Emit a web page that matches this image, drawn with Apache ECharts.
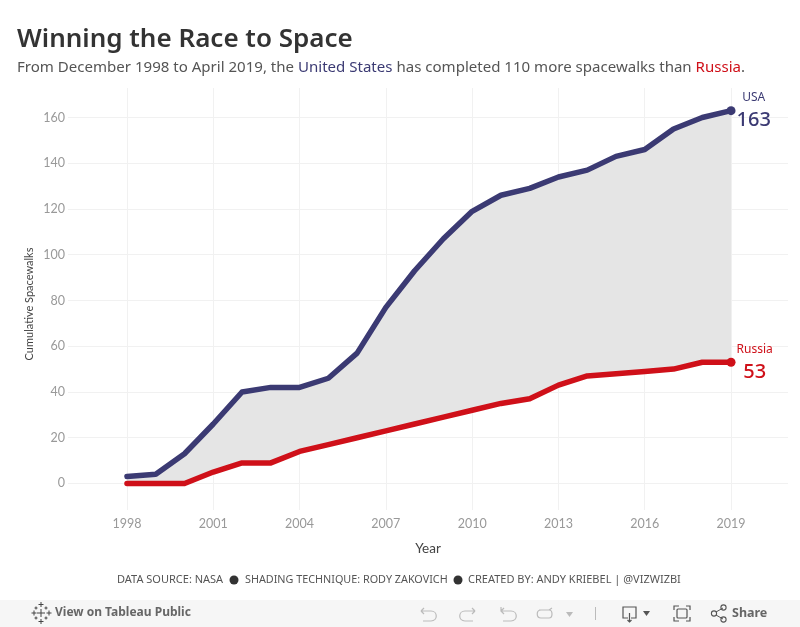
<!DOCTYPE html>
<html><head><meta charset="utf-8">
<style>html,body{margin:0;padding:0;background:#fff}#c{width:800px;height:627px}</style>
<script src="https://cdn.jsdelivr.net/npm/echarts@6/dist/echarts.min.js"></script>
</head><body><div id="c"></div>
<script>
const years=[1998,1999,2000,2001,2002,2003,2004,2005,2006,2007,2008,2009,2010,2011,2012,2013,2014,2015,2016,2017,2018,2019];
const usa=[3,4,13,26,40,42,42,46,57,77,93,107,119,126,129,134,137,143,146,155,160,163];
const russia=[0,0,0,5,9,9,14,17,20,23,26,29,32,35,37,43,47,48,49,50,53,53];
const xTicks=[1998,2001,2004,2007,2010,2013,2016,2019];
const yTicks=[0,20,40,60,80,100,120,140,160];
const USA_C='#3b3a73',RU_C='#cf1019',FONT='"Noto Sans",sans-serif',AXF='Lato,"Noto Sans",sans-serif';
const last=years.length-1;
const pair=a=>a.map((v,i)=>[years[i],v]);
const endLabel=(name,val,color)=>({show:true,position:'right',distance:0,color,fontFamily:FONT,
  formatter:p=>p.dataIndex===last?`{a|${name}}\n{b|${val}}`:'',
  rich:{a:{fontSize:12,color,align:'center',lineHeight:20,fontFamily:FONT},b:{fontSize:20,fontWeight:500,color,align:'center',lineHeight:26,fontFamily:FONT}}});
const lineS=(name,arr,color,offset)=>({name,type:'line',data:pair(arr),z:5,showSymbol:true,showAllSymbol:true,symbol:'circle',
  symbolSize:(v,p)=>p.dataIndex===last?9:0,lineStyle:{color,width:5.5,cap:'round',join:'round'},itemStyle:{color},
  label:Object.assign(endLabel(name,arr[last],color),{offset}),silent:true,animation:false});
let shapeN=0;
const reg=d=>{const n='ic'+(shapeN++);echarts.graphic.registerShape(n,echarts.graphic.extendPath(d,{}));return n;};
const stroke=(d,c='#bbb',w=1.2)=>({type:reg(d),style:{fill:'none',stroke:c,lineWidth:w},silent:true});
const fillp=(d,c='#666')=>({type:reg(d),style:{fill:c},silent:true});
const plus=(x,y,r)=>`M${x-r} ${y}H${x+r}M${x} ${y-r}V${y+r}`;
const chart=echarts.init(document.getElementById('c'),null,{renderer:'canvas'});
chart.setOption({
 animation:false,backgroundColor:'#fff',
 title:{left:17,top:27,padding:0,itemGap:7,
  text:'Winning the Race to Space',textStyle:{fontFamily:FONT,fontSize:26,fontWeight:600,color:'#333'},
  subtext:'{t|From December 1998 to April 2019, the }{u|United States}{t| has completed 110 more spacewalks than }{r|Russia}{t|.}',
  subtextStyle:{fontFamily:FONT,fontSize:15.05,color:'#555',rich:{t:{fontFamily:FONT,fontSize:15.05,color:'#555'},u:{fontFamily:FONT,fontSize:15.05,color:USA_C},r:{fontFamily:FONT,fontSize:15.05,color:RU_C}}}},
 grid:{left:68,right:12,top:88,height:422},
 xAxis:{type:'value',min:1995.95,max:2020.98,name:'Year',nameLocation:'middle',nameGap:32,
  nameTextStyle:{color:'#444',fontSize:13.5,fontFamily:AXF},
  axisLine:{show:false},axisTick:{show:false,customValues:xTicks},
  axisLabel:{color:'#999',fontSize:12.5,fontFamily:AXF,margin:7,customValues:xTicks,formatter:v=>String(v)},
  splitLine:{show:true,lineStyle:{color:'#f1f1f1',width:1}}},
 yAxis:{type:'value',min:-11.6,max:172.9,name:'Cumulative Spacewalks',nameLocation:'middle',nameGap:33,nameMoveOverlap:false,
  nameTextStyle:{color:'#444',fontSize:11,fontFamily:AXF,padding:[0,10,0,0]},
  axisLine:{show:false},axisTick:{show:false,customValues:yTicks},
  axisLabel:{color:'#999',fontSize:12.5,fontFamily:AXF,margin:3,customValues:yTicks,formatter:v=>String(v)},
  splitLine:{show:true,lineStyle:{color:'#f1f1f1',width:1}}},
 series:[
  {name:'band',type:'custom',z:2,silent:true,data:years.map((y,i)=>[y,usa[i],russia[i]]),encode:{x:0,y:[1,2]},
   renderItem:(params,api)=>{
     if(params.dataIndex!==0)return null;
     const pts=years.map((y,i)=>api.coord([y,usa[i]])).concat(years.map((y,i)=>api.coord([y,russia[i]])).reverse());
     return {type:'polygon',shape:{points:pts},style:{fill:'#e5e5e5'}};
   }},
  lineS('USA',usa,USA_C,[1,0]),
  lineS('Russia',russia,RU_C,[1,0])
 ],
 graphic:[
  {type:'rect',shape:{x:0,y:600,width:800,height:27},style:{fill:'#f6f6f6'},silent:true,z:-1},
  {type:'text',x:117,y:574,style:{text:'DATA SOURCE: NASA',font:'11px '+FONT,fill:'#555'}},
  {type:'circle',shape:{cx:234,cy:580,r:4.5},style:{fill:'#333'}},
  {type:'text',x:245,y:574,style:{text:'SHADING TECHNIQUE: RODY ZAKOVICH',font:'10.8px '+FONT,fill:'#555'}},
  {type:'circle',shape:{cx:458,cy:580,r:4.5},style:{fill:'#333'}},
  {type:'text',x:468,y:574,style:{text:'CREATED BY: ANDY KRIEBEL | @VIZWIZBI',font:'11px '+FONT,fill:'#555'}},
  {type:'text',x:55,y:607,style:{text:'View on Tableau Public',font:'bold 12px '+FONT,fill:'#666'}},
  {type:'text',x:732,y:607,style:{text:'Share',font:'bold 12.5px '+FONT,fill:'#666'}},
  stroke(plus(41,613,4)+plus(41,604.5,2.5)+plus(41,621.5,2.5)+plus(34,613,2.5)+plus(49,613,2.5)+plus(36,608,1.5)+plus(46,608,1.5)+plus(36,618,1.5)+plus(46,618,1.5),'#444',1),
  stroke('M421 611H431C438 611 438 621 431 621H423M421 611L424 608M421 611L424 614'),
  stroke('M475 611H465C458 611 458 621 465 621H473M475 611L472 608M475 611L472 614'),
  stroke('M501 607V611H511C518 611 518 621 511 621H503M501 611L504 608M501 611L504 614'),
  stroke('M539 610H549C553 610 553 618 549 618H541C536 618 536 610 541 610M549 610L552 608'),
  fillp('M566 612H573L569.5 617Z','#bbb'),
  stroke('M595.5 607V620','#bbb',1),
  stroke('M628 618H623V607H636V618H631M629.5 613V622M627.5 620L629.5 622L631.5 620','#555',1.2),
  fillp('M643 611H650L646.5 616Z','#555'),
  stroke('M674 610V606H679M686 606H690V610M690 617V621H686M679 621H674V617','#555',1.2),
  {type:'rect',shape:{x:677,y:609,width:10,height:9,r:1},style:{fill:'none',stroke:'#555',lineWidth:1.2},silent:true},
  stroke('M716 612L723 608M716 615L723 619','#555',1),
  {type:'circle',shape:{cx:714,cy:613.5,r:2.6},style:{fill:'none',stroke:'#555',lineWidth:1.1}},
  {type:'circle',shape:{cx:723.5,cy:607.5,r:2.6},style:{fill:'none',stroke:'#555',lineWidth:1.1}},
  {type:'circle',shape:{cx:723.5,cy:619.5,r:2.6},style:{fill:'none',stroke:'#555',lineWidth:1.1}}
 ]
});
</script></body></html>
